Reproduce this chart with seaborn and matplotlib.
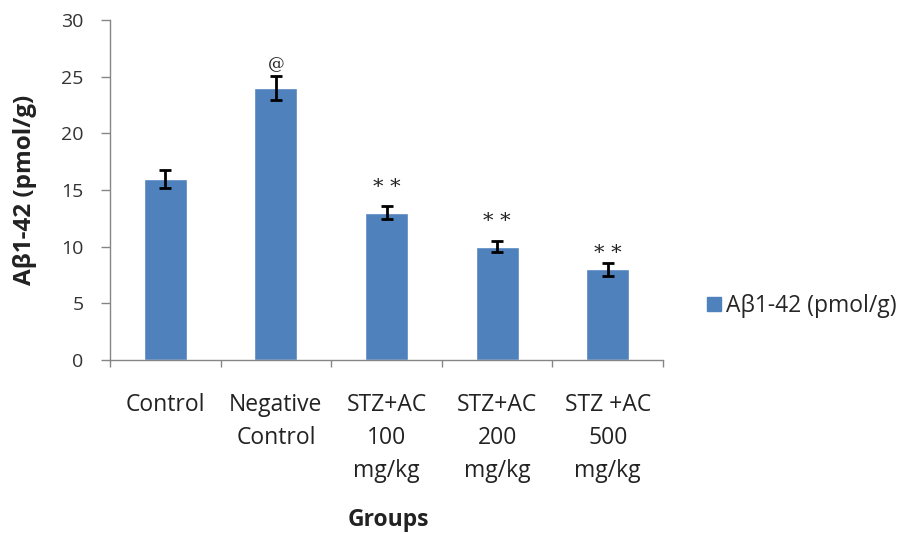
import matplotlib
matplotlib.use("Agg")
import matplotlib.pyplot as plt
import seaborn as sns
import pandas as pd
from matplotlib.patches import Patch

categories = ["Control", "Negative\nControl", "STZ+AC\n100\nmg/kg", "STZ+AC\n200\nmg/kg", "STZ +AC\n500\nmg/kg"]
values = [16.0, 24.0, 13.0, 10.0, 8.0]
errors = [0.8, 1.1, 0.6, 0.5, 0.6]
marks = ["", "@", "* *", "* *", "* *"]
mark_y = [None, 26.1, 15.2, 12.2, 9.4]
series_name = "A\u03b21-42 (pmol/g)"
yticks = [0, 5, 10, 15, 20, 25, 30]

sns.set_theme(style="white")
plt.rcParams['font.family'] = ['Open Sans', 'DejaVu Sans']

df = pd.DataFrame({"group": categories, "value": values})

fig = plt.figure(figsize=(9.07, 5.34), dpi=100)
ax = fig.add_axes([110/907, 1-360/534, (663-110)/907, (360-20)/534])

color = "#4F81BD"
sns.barplot(data=df, x="group", y="value", color=color, saturation=1,
            width=0.39, errorbar=None, ax=ax)
ax.errorbar(range(len(values)), values, yerr=errors, fmt="none",
            ecolor="black", elinewidth=2, capsize=4.3, capthick=2)

for i, (m, my) in enumerate(zip(marks, mark_y)):
    if m:
        ax.text(i, my, m, ha="center", va="center",
                fontsize=12 if m == "@" else 15,
                family=["DejaVu Serif"], color="#222222")

ax.set_ylim(0, 30)
ax.set_xlim(-0.5, len(values) - 0.5)
ax.set_yticks(yticks)
ax.set_yticklabels([str(t) for t in yticks], fontsize=14, color="#333333")

# category boundary ticks (major, unlabeled) and centered labels (minor)
ax.set_xticks([i - 0.5 for i in range(len(values) + 1)])
ax.set_xticklabels([])
ax.set_xticks(range(len(values)), minor=True)
ax.set_xticklabels(categories, minor=True, fontsize=16.5, color="#222222",
                   linespacing=1.5, va="top")
ax.tick_params(axis="x", which="minor", length=0, pad=24)
ax.tick_params(axis="x", which="major", length=5, width=1, color="#868686", direction="out", bottom=True)
ax.tick_params(axis="y", which="major", length=6.5, width=1, color="#868686", direction="out", left=True, pad=12.5)

for s in ["top", "right"]:
    ax.spines[s].set_visible(False)
for s in ["left", "bottom"]:
    ax.spines[s].set_color("#868686")
    ax.spines[s].set_linewidth(1)

ax.set_xlabel("")
ax.set_ylabel(series_name, fontsize=17.5, fontweight="bold", color="#222222")
ax.yaxis.set_label_coords(-0.132, 0.5)
fig.text(388/907, 1-520/534, "Groups", ha="center", va="center",
         fontsize=16.5, fontweight="bold", color="#222222")

handle = Patch(facecolor=color, edgecolor=color)
fig.legend([handle], [series_name], loc="center left",
           bbox_to_anchor=(707/907, 1-306/534), frameon=False,
           borderaxespad=0, borderpad=0,
           fontsize=16.5, handlelength=0.6, handleheight=0.6, handletextpad=0.25)

fig.savefig("out.png", dpi=100)
